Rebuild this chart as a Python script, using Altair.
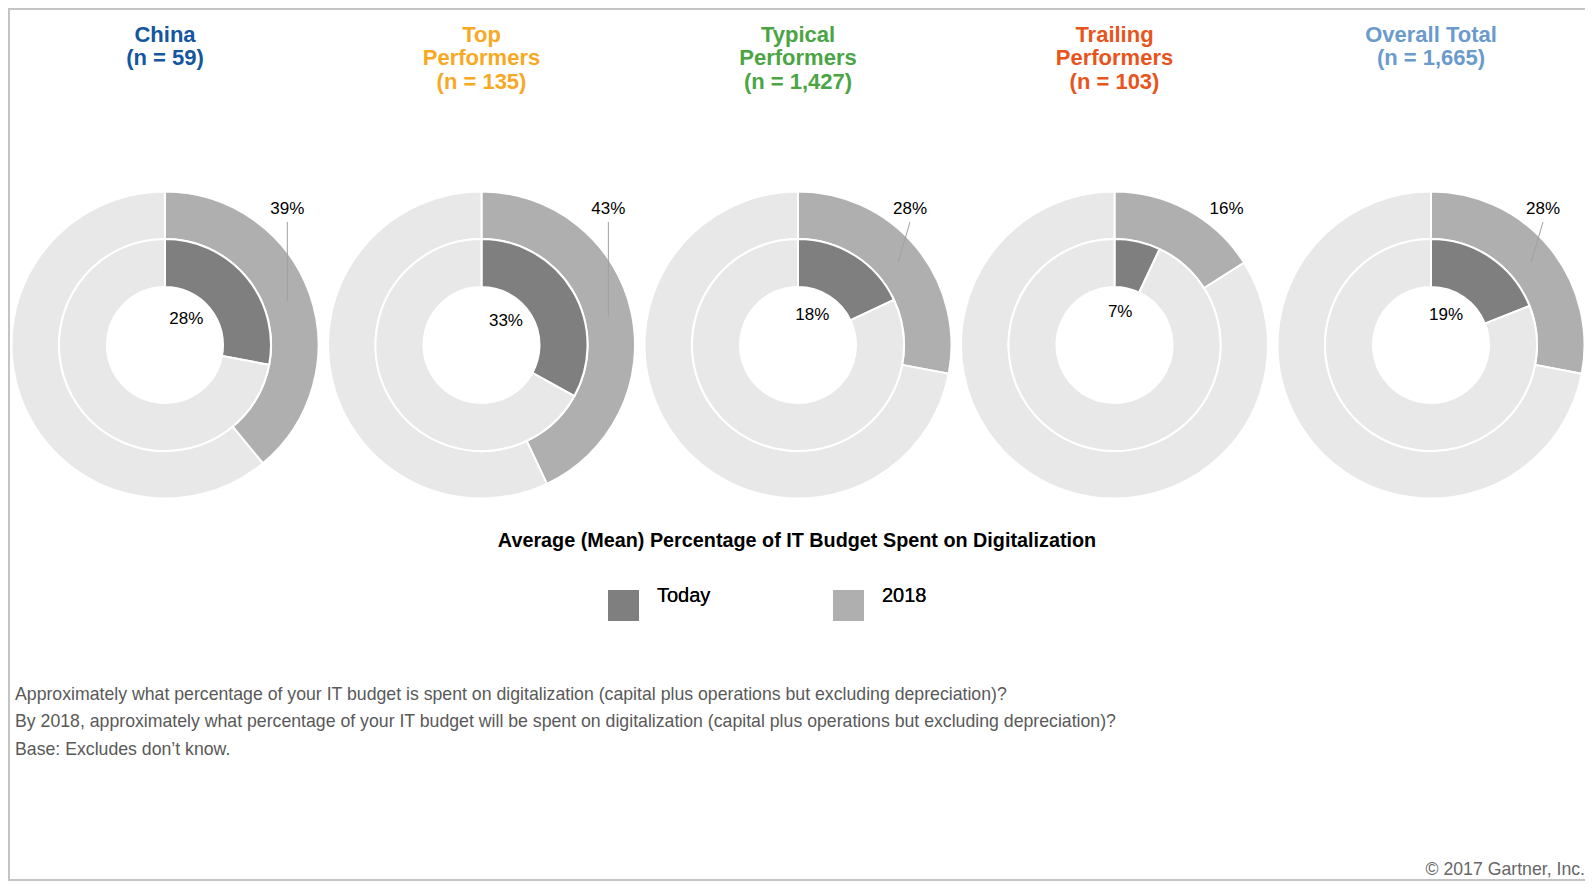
import altair as alt
import pandas as pd

# ---------------- data ----------------
groups = ["China", "Top Performers", "Typical Performers", "Trailing Performers", "Overall Total"]
title_lines = [
    "China\n(n = 59)",
    "Top\nPerformers\n(n = 135)",
    "Typical\nPerformers\n(n = 1,427)",
    "Trailing\nPerformers\n(n = 103)",
    "Overall Total\n(n = 1,665)",
]
title_colors = ["#1456A0", "#F8A823", "#4AA544", "#E8541C", "#6B9BCB"]
today_pct = [28, 33, 18, 7, 19]
pct_2018 = [39, 43, 28, 16, 28]
has_leader = [True, True, True, False, True]

series = ["Today", "2018", "Remaining"]
series_colors = ["#7f7f7f", "#afafaf", "#e8e8e8"]

heading = "Average (Mean) Percentage of IT Budget Spent on Digitalization"
footnote = ("Approximately what percentage of your IT budget is spent on digitalization "
            "(capital plus operations but excluding depreciation)?\n"
            "By 2018, approximately what percentage of your IT budget will be spent on "
            "digitalization (capital plus operations but excluding depreciation)?\n"
            "Base: Excludes don\u2019t know.")
copyright_txt = "\u00a9 2017 Gartner, Inc."

FONT = "Liberation Sans"

# ---------------- tables ----------------
grp_df = pd.DataFrame({
    "idx": list(range(len(groups))),
    "group": groups,
    "title": title_lines,
    "tcolor": title_colors,
    "today": today_pct,
    "y2018": pct_2018,
    "leader": has_leader,
})

arc_rows = []
for i in range(len(groups)):
    arc_rows.append({"idx": i, "ring": "inner", "cat": "Today", "start": 0, "end": today_pct[i]})
    arc_rows.append({"idx": i, "ring": "inner", "cat": "Remaining", "start": today_pct[i], "end": 100})
    arc_rows.append({"idx": i, "ring": "outer", "cat": "2018", "start": 0, "end": pct_2018[i]})
    arc_rows.append({"idx": i, "ring": "outer", "cat": "Remaining", "start": pct_2018[i], "end": 100})
arc_df = pd.DataFrame(arc_rows)

# page-pixel scales (chart origin sits at the 8px page margin)
xs = alt.Scale(domain=[8, 1585], nice=False, zero=False)
ys = alt.Scale(domain=[8, 881], nice=False, zero=False, reverse=True)
CX = "165 + 316.5 * datum.idx"
CY = "345"


def X(f):
    return alt.X(f, type="quantitative", scale=xs, axis=None)


def Y(f):
    return alt.Y(f, type="quantitative", scale=ys, axis=None)


color_enc = alt.Color(
    "cat:N",
    scale=alt.Scale(domain=series, range=series_colors),
    legend=alt.Legend(
        title=None, orient="none", legendX=600, legendY=582, direction="horizontal",
        values=["Today", "2018"], symbolType="square", symbolSize=961,
        symbolStrokeWidth=0, symbolOpacity=1, labelFontSize=20, labelFont=FONT,
        labelColor="black", labelOffset=18, labelBaseline="bottom",
        columnPadding=122, padding=0,
    ),
)

theta_enc = alt.Theta("start:Q", scale=alt.Scale(domain=[0, 100]), stack=None)

base_arc = alt.Chart(arc_df).transform_calculate(cx=CX, cy=CY)

inner = base_arc.transform_filter("datum.ring == 'inner'").mark_arc(
    innerRadius=58, outerRadius=106, stroke="white", strokeWidth=2
).encode(x=X("cx"), y=Y("cy"), theta=theta_enc, theta2="end:Q", color=color_enc)

outer = base_arc.transform_filter("datum.ring == 'outer'").mark_arc(
    innerRadius=106, outerRadius=153.5, stroke="white", strokeWidth=2
).encode(x=X("cx"), y=Y("cy"), theta=theta_enc, theta2="end:Q", color=color_enc)

base_grp = alt.Chart(grp_df).transform_calculate(cx=CX, cy=CY)

today_lbl = base_grp.transform_calculate(
    a="datum.today / 100 * 2 * PI * 0.36",
    tx="datum.cx + 36 * sin(datum.a)",
    ty="datum.cy - 35 * cos(datum.a) + 2",
    lbl="datum.today + '%'",
).mark_text(font=FONT, fontSize=17, color="black", baseline="middle", align="center").encode(
    x=X("tx"), y=Y("ty"), text="lbl:N"
)

calc2018 = dict(
    mid="datum.y2018 / 100 * PI",
    mx="130 * sin(datum.mid)",
    my="-130 * cos(datum.mid)",
    lx="datum.cx + max(datum.mx, 112)",
    ly="datum.cy - 136",
    px="datum.cx + datum.mx",
    py="datum.cy + datum.my",
    ls="datum.cy - 123",
    lbl="datum.y2018 + '%'",
)

lbl2018 = base_grp.transform_calculate(**calc2018).mark_text(
    font=FONT, fontSize=17, color="black", baseline="middle", align="center"
).encode(x=X("lx"), y=Y("ly"), text="lbl:N")

leaders = base_grp.transform_filter("datum.leader").transform_calculate(**calc2018).mark_rule(
    color="#a0a0a0", strokeWidth=1
).encode(x=X("lx"), y=Y("ls"), x2="px:Q", y2="py:Q")

titles = base_grp.transform_calculate(ty="24.5").mark_text(
    font=FONT, fontSize=22, fontWeight="bold", baseline="top", align="center",
    lineBreak="\n", lineHeight=23.5,
).encode(x=X("cx"), y=Y("ty"), text="title:N", color=alt.Color("tcolor:N", scale=None))

single = pd.DataFrame({"heading": [heading], "foot": [footnote], "copy": [copyright_txt]})
base_single = alt.Chart(single)

heading_txt = base_single.transform_calculate(hx="797", hy="541").mark_text(
    font=FONT, fontSize=19.8, fontWeight="bold", color="black", align="center", baseline="middle"
).encode(x=X("hx"), y=Y("hy"), text="heading:N")

foot_txt = base_single.transform_calculate(fx="15", fy="685.5").mark_text(
    font=FONT, fontSize=17.7, color="#595959", align="left", baseline="top",
    lineBreak="\n", lineHeight=27.5,
).encode(x=X("fx"), y=Y("fy"), text="foot:N")

copy_txt = base_single.transform_calculate(cpx="1585", cpy="869.5").mark_text(
    font=FONT, fontSize=17.7, color="#666666", align="right", baseline="middle"
).encode(x=X("cpx"), y=Y("cpy"), text="copy:N")

# slide frame (left, top, bottom edges)
frame_left = alt.Chart(single).mark_rule(color="#c4c4c4", strokeWidth=2).encode(
    x=alt.value(1), y=alt.value(0), y2=alt.value(873)
)
frame_top = alt.Chart(single).mark_rule(color="#c4c4c4", strokeWidth=2).encode(
    x=alt.value(0), x2=alt.value(1577), y=alt.value(1)
)
frame_bottom = alt.Chart(single).mark_rule(color="#c4c4c4", strokeWidth=2).encode(
    x=alt.value(0), x2=alt.value(1577), y=alt.value(872)
)

chart = alt.layer(
    frame_left, frame_top, frame_bottom,
    outer, inner, leaders, today_lbl, lbl2018, titles, heading_txt, foot_txt, copy_txt
).resolve_scale(color="independent").properties(
    width=1577, height=873, autosize=alt.AutoSizeParams(type="none"), padding=0
).configure(font=FONT).configure_view(stroke=None)

chart.save("out.html", embed_options={"renderer": "svg", "actions": False})
